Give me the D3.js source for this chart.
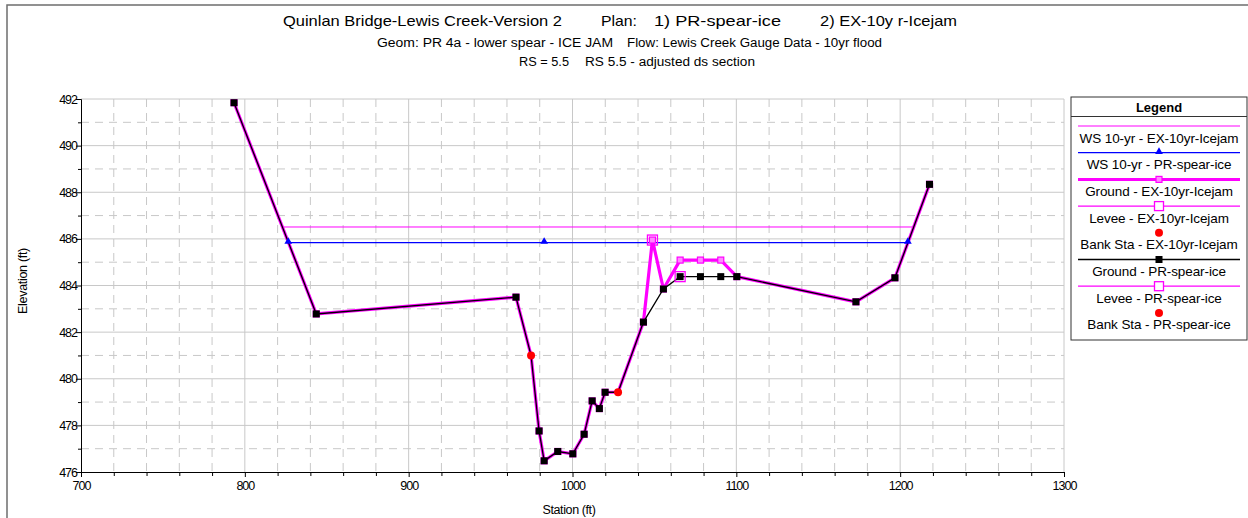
<!DOCTYPE html>
<html>
<head>
<meta charset="utf-8">
<script src="https://cdn.jsdelivr.net/npm/d3@7"></script>
<style>
body { margin: 0; background: #fff; }
svg { font-family: "Liberation Sans", Arial, sans-serif; }
</style>
</head>
<body>
<script>
// ground, proposed plan (PR-spear-ice)
var groundStaPR = [793.4, 843.6, 965.5, 974.7, 979.6, 982.7, 991.0, 1000.2, 1007.1, 1012.0, 1016.4, 1019.9, 1027.8, 1043.3, 1055.5, 1065.7, 1078.1, 1090.5, 1100.3, 1173.0, 1196.8, 1217.9];
var groundElevPR = [491.84, 482.78, 483.5, 481.0, 477.76, 476.48, 476.88, 476.78, 477.62, 479.05, 478.72, 479.42, 479.42, 482.43, 483.85, 484.38, 484.38, 484.38, 484.38, 483.3, 484.33, 488.34];

// ground, existing plan (EX-10yr-Icejam)
var groundStaEX = [793.4, 843.6, 965.5, 974.7, 979.6, 982.7, 991.0, 1000.2, 1007.1, 1012.0, 1016.4, 1019.9, 1027.8, 1043.3, 1048.8, 1055.5, 1065.7, 1078.1, 1090.5, 1100.3, 1173.0, 1196.8, 1217.9];
var groundElevEX = [491.84, 482.78, 483.5, 481.0, 477.76, 476.48, 476.88, 476.78, 477.62, 479.05, 478.72, 479.42, 479.42, 482.43, 485.95, 483.85, 485.09, 485.09, 485.09, 484.38, 483.3, 484.33, 488.34];

// water surfaces
var wsStaEX = [822.9, 1208.2];
var wsElevEX = [486.51, 486.51];
var wsStaPR = [826.5, 982.7, 1204.7];
var wsElevPR = [485.84, 485.84, 485.84];

// levees and bank stations
var leveeStaEX = [1048.8];
var leveeElevEX = [485.95];
var leveeStaPR = [1065.7];
var leveeElevPR = [484.38];
var bankSta = [974.7, 1027.8];
var bankElev = [481.0, 479.42];

var xTicks = [700, 800, 900, 1000, 1100, 1200, 1300];
var yTicks = [476, 478, 480, 482, 484, 486, 488, 490, 492];

var legendLabels = [
  "WS 10-yr - EX-10yr-Icejam",
  "WS 10-yr - PR-spear-ice",
  "Ground - EX-10yr-Icejam",
  "Levee - EX-10yr-Icejam",
  "Bank Sta - EX-10yr-Icejam",
  "Ground - PR-spear-ice",
  "Levee - PR-spear-ice",
  "Bank Sta - PR-spear-ice"
];

function pts(sta, elev) {
  return sta.map(function (s, i) { return { s: s, e: elev[i] }; });
}
function notBank(d) { return bankSta.indexOf(d.s) < 0; }

var W = 1248, H = 518;
var svg = d3.select("body").append("svg")
  .attr("width", W)
  .attr("height", H);

// outer frame
svg.append("rect")
  .attr("x", 7).attr("y", 5)
  .attr("width", W).attr("height", H)
  .attr("fill", "none")
  .attr("stroke", "#6e6e6e")
  .attr("stroke-width", 1.5);

var x = d3.scaleLinear().domain([700, 1300]).range([81, 1064]);
var y = d3.scaleLinear().domain([476, 492]).range([472, 99]);

// grid
var grid = svg.append("g").attr("stroke", "#c8c8c8").attr("stroke-width", 1);
var xMinor = d3.range(720, 1300, 20).filter(function (v) { return v % 100 !== 0; });
var yMinor = d3.range(477, 492, 2);
grid.selectAll("line.xm").data(xMinor).enter().append("line")
  .attr("x1", function (d) { return x(d); }).attr("x2", function (d) { return x(d); })
  .attr("y1", y(492)).attr("y2", y(476))
  .attr("stroke-dasharray", "8,6");
grid.selectAll("line.ym").data(yMinor).enter().append("line")
  .attr("y1", function (d) { return y(d); }).attr("y2", function (d) { return y(d); })
  .attr("x1", x(700)).attr("x2", x(1300))
  .attr("stroke-dasharray", "8,6");
grid.selectAll("line.xM").data(xTicks.slice(1)).enter().append("line")
  .attr("x1", function (d) { return x(d); }).attr("x2", function (d) { return x(d); })
  .attr("y1", y(492)).attr("y2", y(476));
grid.selectAll("line.yM").data(yTicks.slice(1)).enter().append("line")
  .attr("y1", function (d) { return y(d); }).attr("y2", function (d) { return y(d); })
  .attr("x1", x(700)).attr("x2", x(1300));

// axes
var xAxis = svg.append("g").attr("transform", "translate(0," + y(476) + ")")
  .call(d3.axisBottom(x).tickValues(xTicks).tickSize(5).tickSizeOuter(0).tickFormat(d3.format("d")));
svg.append("g").attr("transform", "translate(0," + y(476) + ")")
  .call(d3.axisBottom(x).tickValues(xMinor).tickSize(4).tickSizeOuter(0).tickFormat(""));
var yAxis = svg.append("g").attr("transform", "translate(" + x(700) + ",0)")
  .call(d3.axisLeft(y).tickValues(yTicks).tickSize(5).tickSizeOuter(0).tickFormat(d3.format("d")));
svg.append("g").attr("transform", "translate(" + x(700) + ",0)")
  .call(d3.axisLeft(y).tickValues(yMinor).tickSize(3).tickSizeOuter(0).tickFormat(""));
svg.selectAll(".domain").attr("stroke", "#000");
svg.selectAll(".tick line").attr("stroke", "#000");
svg.selectAll(".tick text")
  .attr("font-family", "Liberation Sans, Arial, sans-serif")
  .attr("font-size", 12.5)
  .attr("letter-spacing", "-1px")
  .attr("fill", "#000");
xAxis.selectAll(".tick text").attr("y", 9).attr("dy", "0.75em");
yAxis.selectAll(".tick text").attr("x", -4).attr("dy", "0.32em");

// axis titles
svg.append("text").attr("x", 569).attr("y", 514)
  .attr("text-anchor", "middle").attr("font-size", 12.5).attr("letter-spacing", "-0.4px")
  .text("Station (ft)");
svg.append("text").attr("transform", "translate(27,281) rotate(-90)")
  .attr("text-anchor", "middle").attr("font-size", 12.5).attr("letter-spacing", "-0.3px")
  .text("Elevation (ft)");

// titles
var t1 = [
  { x: 283, w: 279, t: "Quinlan Bridge-Lewis Creek-Version 2" },
  { x: 601, w: 36, t: "Plan:" },
  { x: 654, w: 127, t: "1) PR-spear-ice" },
  { x: 820, w: 137, t: "2) EX-10y r-Icejam" }
];
svg.selectAll("text.t1").data(t1).enter().append("text")
  .attr("x", function (d) { return d.x; }).attr("y", 26)
  .attr("font-size", 15)
  .attr("textLength", function (d) { return d.w; })
  .attr("lengthAdjust", "spacingAndGlyphs")
  .text(function (d) { return d.t; });
var t2 = [
  { x: 377, w: 236, t: "Geom: PR 4a - lower spear - ICE JAM" },
  { x: 627, w: 255, t: "Flow: Lewis Creek Gauge Data - 10yr flood" },
  { x: 519, w: 50, t: "RS = 5.5" },
  { x: 585, w: 170, t: "RS 5.5 - adjusted ds section" }
];
svg.selectAll("text.t2").data(t2).enter().append("text")
  .attr("x", function (d) { return d.x; }).attr("y", function (d, i) { return i < 2 ? 47 : 66; })
  .attr("font-size", 12.5)
  .attr("textLength", function (d) { return d.w; })
  .attr("lengthAdjust", "spacingAndGlyphs")
  .text(function (d) { return d.t; });

var line = d3.line().x(function (d) { return x(d.s); }).y(function (d) { return y(d.e); });

var gEX = pts(groundStaEX, groundElevEX);
var gPR = pts(groundStaPR, groundElevPR);
var wEX = pts(wsStaEX, wsElevEX);
var wPR = pts(wsStaPR, wsElevPR);

// water surfaces
svg.append("path").datum(wEX).attr("d", line)
  .attr("fill", "none").attr("stroke", "#ff00ff").attr("stroke-width", 1);
svg.append("path").datum(wPR).attr("d", line)
  .attr("fill", "none").attr("stroke", "#0000ff").attr("stroke-width", 1.3);

// ground EX
svg.append("path").datum(gEX).attr("d", line)
  .attr("fill", "none").attr("stroke", "#ff00ff").attr("stroke-width", 3.2)
  .attr("stroke-linejoin", "round");
svg.selectAll("rect.gex").data(gEX.filter(notBank)).enter().append("rect")
  .attr("x", function (d) { return x(d.s) - 3; }).attr("y", function (d) { return y(d.e) - 3; })
  .attr("width", 6).attr("height", 6)
  .attr("fill", "#ff88ff").attr("stroke", "#ff00ff").attr("stroke-width", 1.2);

// ground PR
svg.append("path").datum(gPR).attr("d", line)
  .attr("fill", "none").attr("stroke", "#000").attr("stroke-width", 1.3);
svg.selectAll("rect.gpr").data(gPR.filter(notBank)).enter().append("rect")
  .attr("x", function (d) { return x(d.s) - 3.5; }).attr("y", function (d) { return y(d.e) - 3.5; })
  .attr("width", 7).attr("height", 7)
  .attr("fill", "#000");

// levees
var lev = pts(leveeStaEX, leveeElevEX).concat(pts(leveeStaPR, leveeElevPR));
svg.selectAll("rect.lev").data(lev).enter().append("rect")
  .attr("x", function (d) { return x(d.s) - 5; }).attr("y", function (d) { return y(d.e) - 5; })
  .attr("width", 10).attr("height", 10)
  .attr("fill", "none").attr("stroke", "#ff00ff").attr("stroke-width", 1.3);

// WS markers
var tri = d3.symbol().type(d3.symbolTriangle).size(26);
svg.selectAll("path.tri").data(wPR).enter().append("path")
  .attr("d", tri)
  .attr("transform", function (d) { return "translate(" + x(d.s) + "," + (y(d.e) - 1) + ")"; })
  .attr("fill", "#0000ff");

// bank stations
svg.selectAll("circle.bank").data(pts(bankSta, bankElev)).enter().append("circle")
  .attr("cx", function (d) { return x(d.s); }).attr("cy", function (d) { return y(d.e); })
  .attr("r", 4).attr("fill", "#ff0000");

// legend
var lg = svg.append("g");
lg.append("rect").attr("x", 1071).attr("y", 97).attr("width", 176).attr("height", 243)
  .attr("fill", "#fff").attr("stroke", "#333").attr("stroke-width", 1);
lg.append("line").attr("x1", 1071).attr("x2", 1247).attr("y1", 116.5).attr("y2", 116.5)
  .attr("stroke", "#333");
lg.append("text").attr("x", 1159).attr("y", 112).attr("text-anchor", "middle")
  .attr("font-size", 13).attr("font-weight", "bold").text("Legend");

var symY = function (i) { return 126 + i * 26.7; };
var legendStyle = [
  { line: "#ff00ff", lw: 1 },
  { line: "#0000ff", lw: 1.3, mark: "tri" },
  { line: "#ff00ff", lw: 3, mark: "sqs" },
  { line: "#ff00ff", lw: 1.3, mark: "sqo" },
  { mark: "dot" },
  { line: "#000", lw: 1.3, mark: "sqb" },
  { line: "#ff00ff", lw: 1.3, mark: "sqo" },
  { mark: "dot" }
];
legendLabels.forEach(function (lab, i) {
  var st = legendStyle[i], cy = symY(i), cx = 1159;
  if (st.line) {
    lg.append("line").attr("x1", 1078).attr("x2", 1240).attr("y1", cy).attr("y2", cy)
      .attr("stroke", st.line).attr("stroke-width", st.lw);
  }
  if (st.mark === "tri") {
    lg.append("path").attr("d", tri).attr("transform", "translate(" + cx + "," + (cy - 1) + ")").attr("fill", "#0000ff");
  } else if (st.mark === "sqs") {
    lg.append("rect").attr("x", cx - 3).attr("y", cy - 3).attr("width", 6).attr("height", 6)
      .attr("fill", "#ff88ff").attr("stroke", "#ff00ff").attr("stroke-width", 1.2);
  } else if (st.mark === "sqo") {
    lg.append("rect").attr("x", cx - 4.5).attr("y", cy - 4.5).attr("width", 9).attr("height", 9)
      .attr("fill", "#fff").attr("stroke", "#ff00ff").attr("stroke-width", 1.3);
  } else if (st.mark === "sqb") {
    lg.append("rect").attr("x", cx - 3.5).attr("y", cy - 3.5).attr("width", 7).attr("height", 7).attr("fill", "#000");
  } else if (st.mark === "dot") {
    lg.append("circle").attr("cx", cx).attr("cy", cy).attr("r", 4).attr("fill", "#ff0000");
  }
  lg.append("text").attr("x", cx).attr("y", cy + 16.5).attr("text-anchor", "middle")
    .attr("font-size", 13.5).attr("letter-spacing", "-0.1px").text(lab);
});
</script>
</body>
</html>
